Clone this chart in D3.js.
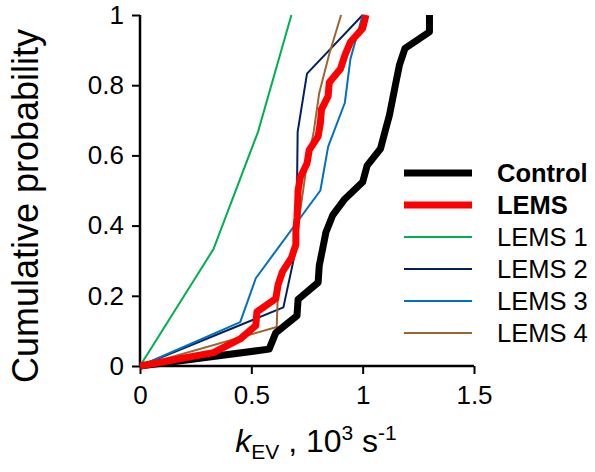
<!DOCTYPE html>
<html>
<head>
<meta charset="utf-8">
<script src="https://cdn.jsdelivr.net/npm/d3@7"></script>
<style>
  body { margin: 0; background: #fff; }
  text { font-family: "Liberation Sans", Arial, sans-serif; fill: #000; }
</style>
</head>
<body>
<div id="chart"></div>
<script>
// values (k_EV in 10^3 s^-1, cumulative probability)
const controlX = [0, 0.58, 0.61, 0.705, 0.71, 0.80, 0.805, 0.82, 0.835, 0.865, 0.92, 1.0, 1.02, 1.08, 1.10, 1.12, 1.135, 1.15, 1.165, 1.19, 1.30, 1.30];
const controlY = [0, 0.048, 0.095, 0.143, 0.19, 0.238, 0.286, 0.333, 0.381, 0.429, 0.476, 0.524, 0.571, 0.619, 0.667, 0.714, 0.762, 0.81, 0.857, 0.905, 0.952, 1];

const lemsX = [0, 0.33, 0.45, 0.52, 0.525, 0.61, 0.62, 0.64, 0.68, 0.70, 0.70, 0.705, 0.708, 0.71, 0.72, 0.75, 0.76, 0.80, 0.81, 0.815, 0.845, 0.85, 0.90, 0.92, 0.945, 1.0, 1.015];
const lemsY = [0, 0.038, 0.077, 0.115, 0.154, 0.192, 0.231, 0.269, 0.308, 0.346, 0.385, 0.423, 0.462, 0.5, 0.538, 0.577, 0.615, 0.654, 0.692, 0.731, 0.769, 0.808, 0.846, 0.885, 0.923, 0.962, 1];

const lems1X = [0, 0.33, 0.53, 0.68];
const lems1Y = [0, 0.333, 0.667, 1];
const lems2X = [0, 0.644, 0.70, 0.705, 0.708, 0.75, 1.0];
const lems2Y = [0, 0.167, 0.333, 0.5, 0.667, 0.833, 1];
const lems3X = [0, 0.45, 0.52, 0.81, 0.845, 0.92, 0.945, 1.0];
const lems3Y = [0, 0.125, 0.25, 0.5, 0.625, 0.75, 0.875, 1];
const lems4X = [0, 0.614, 0.62, 0.69, 0.72, 0.745, 0.78, 0.805, 0.85, 0.903];
const lems4Y = [0, 0.111, 0.222, 0.333, 0.444, 0.556, 0.667, 0.778, 0.889, 1];

const xTicks = [0, 0.5, 1, 1.5];
const yTicks = [0, 0.2, 0.4, 0.6, 0.8, 1];

// draw order: thin single-patient lines, then control, then pooled LEMS on top
const series = [
  {name: "LEMS 1", x: lems1X, y: lems1Y, color: "#00b050", width: 2, bold: false},
  {name: "LEMS 2", x: lems2X, y: lems2Y, color: "#002060", width: 2, bold: false},
  {name: "LEMS 3", x: lems3X, y: lems3Y, color: "#0070c0", width: 2, bold: false},
  {name: "LEMS 4", x: lems4X, y: lems4Y, color: "#996633", width: 2, bold: false},
  {name: "Control", x: controlX, y: controlY, color: "#000000", width: 7, bold: true},
  {name: "LEMS", x: lemsX, y: lemsY, color: "#ff0000", width: 7, bold: true}
];
const legendOrder = ["Control", "LEMS", "LEMS 1", "LEMS 2", "LEMS 3", "LEMS 4"];

const width = 595, height = 472;
const margin = {left: 140, right: 121, top: 15, bottom: 106};

const x = d3.scaleLinear().domain([0, 1.5]).range([margin.left, width - margin.right]);
const y = d3.scaleLinear().domain([0, 1]).range([height - margin.bottom, margin.top]);

const svg = d3.select("#chart").append("svg").attr("width", width).attr("height", height);

// axes
const xAxis = svg.append("g")
    .attr("transform", `translate(0,${y(0)})`)
    .call(d3.axisBottom(x).tickValues(xTicks).tickSize(8).tickPadding(12).tickFormat(d3.format("")));
const yAxis = svg.append("g")
    .attr("transform", `translate(${x(0)},0)`)
    .call(d3.axisLeft(y).tickValues(yTicks).tickSize(8).tickPadding(8).tickFormat(d3.format("")));

[xAxis, yAxis].forEach(g => {
  g.select(".domain").attr("stroke", "#000").attr("stroke-width", 2.5);
  g.selectAll(".tick line").attr("stroke", "#000").attr("stroke-width", 2);
  g.selectAll(".tick text").attr("font-size", 26).attr("font-family", "Liberation Sans, Arial, sans-serif").attr("fill", "#000");
});
xAxis.select(".domain").attr("d", `M${x(0)},0H${x(1.5)}`);
yAxis.select(".domain").attr("d", `M0,${y(0)}V${y(1)}`);

// lines
const line = d3.line().x(d => x(d[0])).y(d => y(d[1]));
svg.append("g").selectAll("path")
    .data(series)
    .join("path")
    .attr("d", s => line(s.x.map((v, i) => [v, s.y[i]])))
    .attr("fill", "none")
    .attr("stroke", s => s.color)
    .attr("stroke-width", s => s.width)
    .attr("stroke-linejoin", "round");

// legend
const legend = svg.append("g").selectAll("g")
    .data(legendOrder.map(n => series.find(s => s.name === n)))
    .join("g")
    .attr("transform", (d, i) => `translate(404,${173 + i * 32})`);
legend.append("line")
    .attr("x1", 0).attr("x2", 68)
    .attr("stroke", d => d.color)
    .attr("stroke-width", d => d.width);
legend.append("text")
    .attr("x", 93).attr("dy", "0.35em")
    .attr("font-size", 25.5)
    .attr("font-weight", d => d.bold ? "bold" : "normal")
    .text(d => d.name);

// axis titles
svg.append("text")
    .attr("transform", "translate(38,206) rotate(-90)")
    .attr("text-anchor", "middle")
    .attr("font-size", 36)
    .text("Cumulative probability");

const xt = svg.append("text")
    .attr("x", 316)
    .attr("y", 452)
    .attr("text-anchor", "middle")
    .attr("font-size", 32);
xt.append("tspan").attr("font-style", "italic").text("k");
xt.append("tspan").attr("font-size", 21).attr("dy", 7).text("EV");
xt.append("tspan").attr("dy", -7).text(" , 10");
xt.append("tspan").attr("font-size", 21).attr("dy", -12).text("3");
xt.append("tspan").attr("dy", 12).text(" s");
xt.append("tspan").attr("font-size", 21).attr("dy", -12).text("-1");
</script>
</body>
</html>
